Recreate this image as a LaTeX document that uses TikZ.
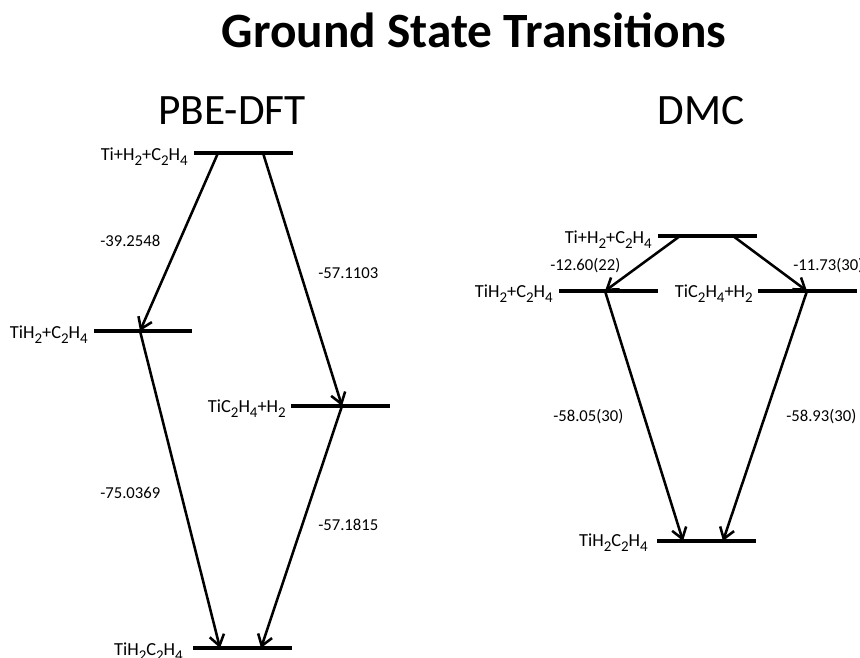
\documentclass[tikz,border=0pt]{standalone}
\usepackage{fontspec}
\setmainfont{Carlito}
\usetikzlibrary{arrows.meta}
% lowered subscript digits for the chemical formulas
\newcommand\chsub[1]{\raisebox{-0.32em}{\fontsize{11.2}{12}\selectfont #1}}
\begin{document}
\begin{tikzpicture}[x=0.75pt,y=-0.75pt,
  level/.style={line width=3pt},
  trans/.style={line width=1.9pt,-{Straight Barb[length=8pt,width=11pt,line width=1.9pt]}},
  species/.style={font=\fontsize{13.8}{15}\selectfont, anchor=base east, inner sep=0pt},
  energy/.style={font=\fontsize{12.5}{14}\selectfont, anchor=base west, inner sep=0pt},
  heading/.style={font=\fontsize{32.5}{38}\selectfont, anchor=base, inner sep=0pt},
]
\useasboundingbox (0,0) rectangle (860,657);

% titles
\node[heading, font=\fontsize{37}{42}\selectfont\bfseries] (title) at (474,47) {Ground State Transitions};
\node[heading] (pbe) at (232,124) {PBE-DFT};
\node[heading] (dmc) at (701,124) {DMC};

% ---- PBE-DFT levels ----
\draw[level] (194,153) -- (293,153);
\draw[level] (94,331) -- (192,331);
\draw[level] (291,406) -- (390,406);
\draw[level] (193,648) -- (292,648);
\coordinate (lt1) at (218,153);
\coordinate (lt2) at (263,153);
\coordinate (ml) at (140,331);
\coordinate (mr) at (342,406);
\coordinate (lb1) at (220,648);
\coordinate (lb2) at (261,648);

\node[species] (ls1) at (188,160) {Ti+H\chsub{2}+C\chsub{2}H\chsub{4}};
\node[species] (ls2) at (88,338) {TiH\chsub{2}+C\chsub{2}H\chsub{4}};
\node[species] (ls3) at (286,412) {TiC\chsub{2}H\chsub{4}+H\chsub{2}};
\node[species] (ls4) at (183,655) {TiH\chsub{2}C\chsub{2}H\chsub{4}};

\draw[trans] (lt1) -- (ml);
\draw[trans] (lt2) -- (mr);
\draw[trans] (ml) -- (lb1);
\draw[trans] (mr) -- (lb2);

\node[energy] (le1) at (100,246) {-39.2548};
\node[energy] (le2) at (318,278) {-57.1103};
\node[energy] (le3) at (100,498) {-75.0369};
\node[energy] (le4) at (318,530) {-57.1815};

% ---- DMC levels ----
\draw[level] (658,236) -- (757,236);
\draw[level] (559,291) -- (658,291);
\draw[level] (758,291) -- (857,291);
\draw[level] (657,541) -- (756,541);
\coordinate (rt1) at (680,236);
\coordinate (rt2) at (733,236);
\coordinate (rl) at (605,291);
\coordinate (rr) at (807,291);
\coordinate (rb1) at (683,541);
\coordinate (rb2) at (723,541);

\node[species] (rs1) at (652,243) {Ti+H\chsub{2}+C\chsub{2}H\chsub{4}};
\node[species] (rs2) at (553,297) {TiH\chsub{2}+C\chsub{2}H\chsub{4}};
\node[species] (rs3) at (753,297) {TiC\chsub{2}H\chsub{4}+H\chsub{2}};
\node[species] (rs4) at (648,546) {TiH\chsub{2}C\chsub{2}H\chsub{4}};

\draw[trans] (rt1) -- (rl);
\draw[trans] (rt2) -- (rr);
\draw[trans] (rl) -- (rb1);
\draw[trans] (rr) -- (rb2);

\node[energy] (re1) at (550,270) {-12.60(22)};
\node[energy] (re2) at (793,270) {-11.73(30)};
\node[energy] (re3) at (553,421) {-58.05(30)};
\node[energy] (re4) at (786,421) {-58.93(30)};
\end{tikzpicture}
\end{document}
